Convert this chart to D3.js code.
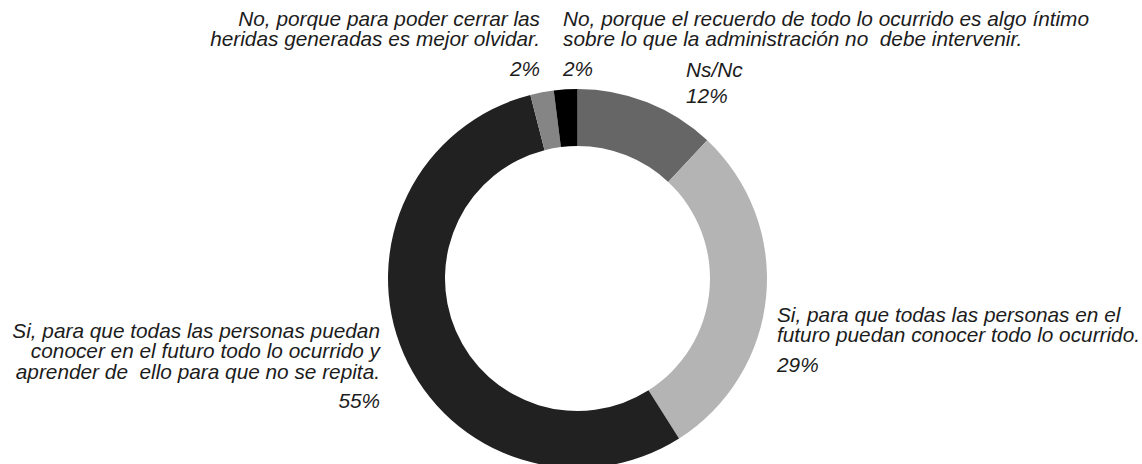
<!DOCTYPE html>
<html>
<head>
<meta charset="utf-8">
<script src="https://cdn.jsdelivr.net/npm/d3@7"></script>
<style>
  body { margin: 0; background: #fff; }
  text { font-family: "Liberation Sans", Arial, Helvetica, sans-serif; font-style: italic; fill: #1c1c1c; white-space: pre; }
</style>
</head>
<body>
<div id="chart"></div>
<script>
// slices, clockwise from 12 o'clock
var categories = ["nsnc", "futuro", "aprender", "olvidar", "intimo"];
var values = [12, 29, 55, 2, 2];
var labelLines = [
    ["Ns/Nc"],
    ["Si, para que todas las personas en el", "futuro puedan conocer todo lo ocurrido."],
    ["Si, para que todas las personas puedan", "conocer en el futuro todo lo ocurrido y", "aprender de  ello para que no se repita."],
    ["No, porque para poder cerrar las", "heridas generadas es mejor olvidar."],
    ["No, porque el recuerdo de todo lo ocurrido es algo íntimo", "sobre lo que la administración no  debe intervenir."]
];
var sliceColors = ["#666666", "#b4b4b4", "#212121", "#858585", "#000000"];

var width = 1142, height = 464,
    cx = 577.5, cy = 278.5,
    outerR = 189.5, innerR = 132.5,
    fontSize = 20.8, lineH = 20.3;

// where each label block sits (anchor x, first baseline, pct baseline)
var labelPos = {
    nsnc:     {x: 686, y: 77,  anchor: "start", pctY: 103},
    futuro:   {x: 777, y: 322, anchor: "start", pctY: 372},
    aprender: {x: 380, y: 338, anchor: "end",   pctY: 408},
    olvidar:  {x: 540, y: 26,  anchor: "end",   pctY: 76},
    intimo:   {x: 563, y: 26,  anchor: "start", pctY: 76}
};

var color = d3.scaleOrdinal().domain(categories).range(sliceColors);

var svg = d3.select("#chart").append("svg")
    .attr("width", width)
    .attr("height", height);

var pie = d3.pie().sort(null).value(function(d) { return d.value; });
var arc = d3.arc().innerRadius(innerR).outerRadius(outerR);

var data = categories.map(function(c, i) {
    return {key: c, value: values[i], lines: labelLines[i]};
});

var g = svg.append("g").attr("transform", "translate(" + cx + "," + cy + ")");
g.selectAll("path")
    .data(pie(data))
    .enter().append("path")
    .attr("d", arc)
    .attr("fill", function(d) { return color(d.data.key); });

// labels
var labels = svg.append("g").selectAll("g.label")
    .data(data)
    .enter().append("g")
    .attr("class", "label");

labels.each(function(d) {
    var p = labelPos[d.key];
    var t = d3.select(this).append("text")
        .attr("text-anchor", p.anchor)
        .style("font-size", fontSize + "px");
    d.lines.forEach(function(line, j) {
        t.append("tspan")
            .attr("x", p.x)
            .attr("y", p.y + j * lineH)
            .text(line);
    });
    d3.select(this).append("text")
        .attr("x", p.x)
        .attr("y", p.pctY)
        .attr("text-anchor", p.anchor)
        .style("font-size", fontSize + "px")
        .text(d.value + "%");
});
</script>
</body>
</html>
